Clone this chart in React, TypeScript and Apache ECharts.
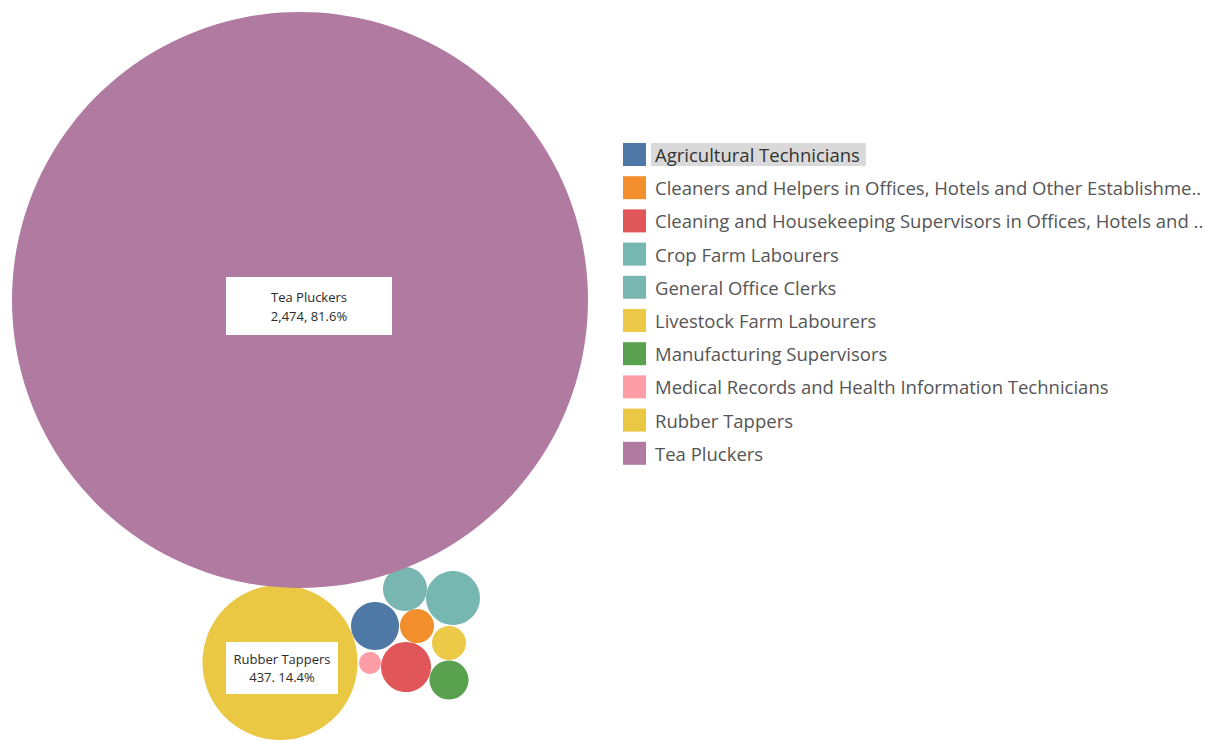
import React, { useEffect, useRef } from "react";
import * as echarts from "echarts";

const categories = [
  "Agricultural Technicians",
  "Cleaners and Helpers in Offices, Hotels and Other Establishme..",
  "Cleaning and Housekeeping Supervisors in Offices, Hotels and ..",
  "Crop Farm Labourers",
  "General Office Clerks",
  "Livestock Farm Labourers",
  "Manufacturing Supervisors",
  "Medical Records and Health Information Technicians",
  "Rubber Tappers",
  "Tea Pluckers",
];
const counts = [20, 10, 22, 26, 16, 10, 13, 4, 437, 2474];
const colors = [
  "#4e79a7",
  "#f28e2b",
  "#e15759",
  "#76b7b2",
  "#79b6b1",
  "#edc948",
  "#59a14f",
  "#ff9da7",
  "#eac843",
  "#b07aa1",
];
// packed-bubble layout (centre x, centre y, radius) in canvas units
const layoutX = [375, 417, 406, 453, 405, 449, 449, 370, 280, 300];
const layoutY = [626, 626, 667, 598, 589, 643, 680, 663, 662.5, 300];
const layoutR = [24, 17, 25, 27, 22, 17, 19.5, 11, 77.5, 288];
const labelled = ["Tea Pluckers", "Rubber Tappers"];
const labelSeparator: Record<string, string> = { "Tea Pluckers": ", ", "Rubber Tappers": ". " };

export default function App() {
  const ref = useRef<HTMLDivElement>(null);
  useEffect(() => {
    if (!ref.current) return;
    const chart = echarts.init(ref.current, undefined, { renderer: "svg" });
    const total = counts.reduce((a, b) => a + b, 0);
    const series = categories.map((name, i) => {
      const isLab = labelled.includes(name);
      const big = name === "Tea Pluckers";
      return {
        type: "scatter",
        name,
        clip: false,
        symbol: "circle",
        symbolSize: layoutR[i] * 2,
        itemStyle: { color: colors[i], opacity: 1 },
        emphasis: { disabled: true },
        data: [[layoutX[i], layoutY[i], counts[i]]],
        label: isLab
          ? {
              show: true,
              position: "inside",
              offset: big ? [9, 6] : [2, 5.5],
              formatter: () =>
                `${name}\n${counts[i].toLocaleString("en-US")}${labelSeparator[name]}${((counts[i] / total) * 100).toFixed(1)}%`,
              backgroundColor: "#ffffff",
              color: "#2b2b2b",
              fontFamily: "Open Sans",
              fontSize: 13,
              lineHeight: big ? 19 : 18,
              width: big ? 166 : 112,
              align: "center",
              padding: big ? [10, 0] : [8, 0],
            }
          : { show: false },
      };
    });
    chart.setOption({
      animation: false,
      grid: { left: 0, right: 0, top: 0, bottom: 0 },
      xAxis: { type: "value", min: 0, max: 1212, show: false },
      yAxis: { type: "value", min: 0, max: 740, inverse: true, show: false },
      legend: {
        orient: "vertical",
        left: 623,
        top: 143,
        padding: 0,
        icon: "rect",
        itemWidth: 23,
        itemHeight: 23,
        itemGap: 10.2,
        selectedMode: false,
        data: categories,
        formatter: (n: string) => (n === categories[0] ? `{hl|${n}}` : `{n|${n}}`),
        textStyle: {
          fontFamily: "Open Sans",
          fontSize: 18.5,
          color: "#555555",
          rich: {
            n: { fontFamily: "Open Sans", fontSize: 18.5, color: "#555555", lineHeight: 24, padding: [2, 4, 2, 4] },
            hl: {
              fontFamily: "Open Sans",
              fontSize: 18.5,
              color: "#333333",
              lineHeight: 24,
              padding: [2, 6, 2, 4],
              backgroundColor: "#d9d9d9",
            },
          },
        },
      },
      series,
    });
    return () => chart.dispose();
  }, []);
  return (
    <div
      ref={ref}
      style={{ position: "absolute", left: 0, top: 0, width: 1212, height: 740, background: "#fff" }}
    />
  );
}
